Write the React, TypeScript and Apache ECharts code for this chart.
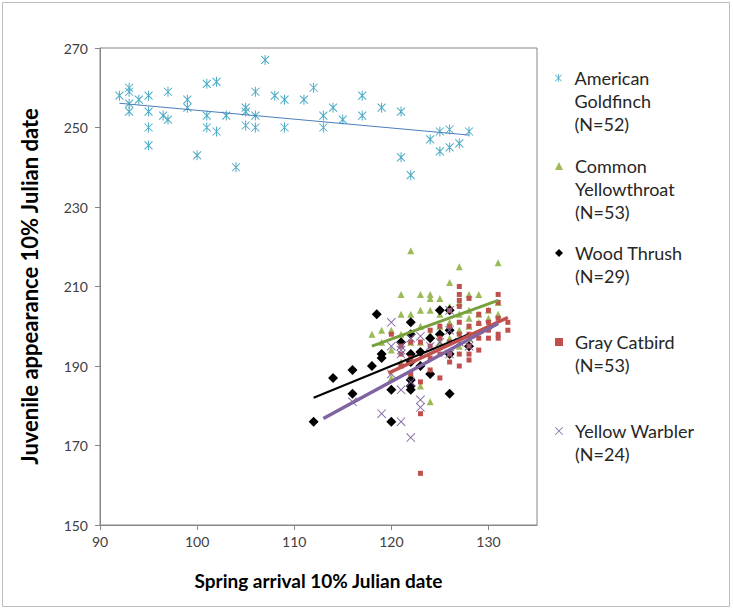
import React, { useEffect, useRef } from 'react';
import * as echarts from 'echarts';

const seriesNames = ['American Goldfinch', 'Common Yellowthroat', 'Wood Thrush', 'Gray Catbird', 'Yellow Warbler'];
const legendLabels = [
  'American\nGoldfinch\n(N=52)',
  'Common\nYellowthroat\n(N=53)',
  'Wood Thrush\n(N=29)',
  'Gray Catbird\n(N=53)',
  'Yellow Warbler\n(N=24)',
];
const legendLineCenters = [78, 166, 253, 342, 431];
const seriesColors = ['#4BACC6', '#9BBB59', '#000000', '#C0504D', '#8064A2'];

const goldfinch = [
  [92, 258], [93, 260], [93, 259], [93, 256], [93, 254], [94, 257], [95, 258], [95, 254], [95, 250], [95, 245.5],
  [96.5, 253], [97, 259], [97, 252], [99, 257], [99, 255], [100, 243], [101, 261], [101, 253], [101, 250], [102, 261.5],
  [102, 249], [103, 253], [104, 240], [105, 255], [105, 254], [105, 250.5], [106, 259], [106, 253], [106, 250], [107, 267],
  [108, 258], [109, 257], [109, 250], [111, 257], [112, 260], [113, 253], [113, 250], [114, 255], [115, 252], [117, 258],
  [117, 253], [119, 255], [121, 254], [121, 242.5], [122, 238], [124, 247], [125, 249], [125, 244], [126, 249.5], [126, 245],
  [127, 246], [128, 249],
];
const yellowthroat = [
  [118, 198], [119, 199], [120, 199], [121, 198], [121, 203], [121, 208], [122, 203], [122, 219], [122, 196], [123, 208],
  [123, 204], [123, 200], [124, 208], [124, 207], [124, 204], [124, 198], [124, 181], [125, 203], [125, 200], [125, 196],
  [126, 211], [126, 205], [126, 201], [126, 197], [127, 215], [127, 206], [127, 203], [127, 199], [128, 208], [128, 204],
  [128, 200], [128, 197], [129, 208], [129, 203], [129, 201], [130, 204], [130, 200], [131, 216], [131, 206], [131, 203],
  [121, 191], [122, 193], [120, 194], [123, 196], [125, 207], [126, 193], [127, 195], [119, 196], [120, 187], [122, 188],
  [123, 185], [130, 202], [128, 202],
];
const woodThrush = [
  [112, 176], [114, 187], [116, 189], [116, 183], [118, 190], [118.5, 203], [119, 193], [119, 192], [120, 184], [120, 176],
  [121, 196], [122, 201], [122, 198], [122, 193], [122, 191], [122, 186.5], [122, 185], [122, 184], [123, 193.5], [123, 190],
  [124, 188], [124, 197], [125, 204], [125, 198], [126, 204], [126, 199], [126, 183], [128, 195], [126, 193],
];
const catbird = [
  [120, 198], [121, 195], [121, 190], [122, 192], [122, 188], [123, 186], [123, 178], [123, 163], [123, 196], [124, 199],
  [124, 195], [124, 192], [125, 187], [125, 197], [125, 200], [126, 193], [126, 191], [126, 196], [126, 200], [127, 210],
  [127, 208], [127, 206.5], [127, 205], [127, 193], [127, 190], [127, 198], [127, 201], [128, 207], [128, 195], [128, 193],
  [128, 191.5], [128, 198], [128, 200], [129, 200.7], [129, 197], [129, 203], [130, 197], [130, 201], [130, 204], [131, 208],
  [131, 206], [131, 198], [131, 197], [131, 202], [132, 199], [132, 201], [126, 204], [125, 193], [124, 189], [129, 194],
  [130, 199], [122, 196], [121, 193],
];
const yellowWarbler = [
  [116, 181], [119, 178], [120, 201], [120, 195], [120, 188], [121, 195], [121, 193], [121, 184], [121, 176], [122, 172],
  [122, 186], [123, 197.5], [123, 181.5], [123, 179.6], [121, 194], [126, 204], [126, 199], [128, 195], [124, 195], [125, 196],
  [122, 197], [127, 196], [126, 193], [128, 197],
];

const trendGoldfinch = [[92, 256.1], [128, 248.1]];
const trendYellowthroat = [[118, 195], [131, 206.5]];
const trendWoodThrush = [[112, 182], [128, 198]];
const trendCatbird = [[119.7, 188.2], [132, 202.2]];
const trendYellowWarbler = [[113, 176.8], [131, 200.7]];

const xMin = 90, xMax = 135, xStep = 10;
const yMin = 150, yMax = 270, yStep = 20;

const asteriskPath =
  'path://M9 0H11V20H9Z M1.3 2.7L2.7 1.3L18.7 17.3L17.3 18.7Z M17.3 1.3L18.7 2.7L2.7 18.7L1.3 17.3Z';
const crossPath =
  'path://M0.3 1.7L1.7 0.3L19.7 18.3L18.3 19.7Z M18.3 0.3L19.7 1.7L1.7 19.7L0.3 18.3Z';

export default function App() {
  const ref = useRef<HTMLDivElement>(null);
  useEffect(() => {
    if (!ref.current) return;
    const chart = echarts.init(ref.current, null, { renderer: 'svg' });
    const font = 'Lato, "Open Sans", sans-serif';
    const data = [goldfinch, yellowthroat, woodThrush, catbird, yellowWarbler];
    const symbols = [asteriskPath, 'triangle', 'diamond', 'rect', crossPath];
    const sizes = [10, 7, 10, 5, 9];
    const trends = [trendGoldfinch, trendYellowthroat, trendWoodThrush, trendCatbird, trendYellowWarbler];
    const trendColors = ['#4A7EBB', '#77A03C', '#000000', '#C0504D', '#8064A2'];
    const trendWidths = [1, 3, 2, 3.5, 3.5];

    const scatterSeries = seriesNames.map((name, i) => ({
      name,
      type: 'scatter',
      data: data[i],
      symbol: symbols[i],
      symbolSize: sizes[i],
      symbolKeepAspect: true,
      itemStyle: { color: seriesColors[i], opacity: 1 },
      z: 2 + i,
      silent: true,
    }));
    const trendSeries = trends.map((t, i) => ({
      name: seriesNames[i] + ' trend',
      type: 'line',
      data: t,
      symbol: 'none',
      lineStyle: { color: trendColors[i], width: trendWidths[i] },
      z: 10 + i,
      silent: true,
    }));

    const lh = 23;
    const legends = seriesNames.map((name, i) => {
      const lines = legendLabels[i].split('\n').length;
      // leading blank lines so that the first text line sits level with the icon
      const padded = '\n'.repeat(lines - 1) + legendLabels[i];
      const totalLines = 2 * lines - 1;
      return {
        data: [name],
        orient: 'vertical',
        left: 555,
        top: legendLineCenters[i] - (totalLines * lh) / 2,
        padding: 0,
        itemWidth: 8,
        itemHeight: 8,
        symbolKeepAspect: true,
        formatter: () => padded,
        textStyle: {
          fontFamily: font,
          fontSize: 18,
          color: '#262626',
          lineHeight: lh,
          padding: [0, 0, 0, 7],
        },
        selectedMode: false,
      };
    });

    chart.setOption({
      animation: false,
      backgroundColor: '#ffffff',
      textStyle: { fontFamily: font },
      graphic: [
        {
          type: 'rect',
          shape: { x: 2.5, y: 2.5, width: 727, height: 604 },
          style: { fill: 'none', stroke: '#bdbdbd', lineWidth: 1 },
          silent: true,
          z: -10,
        },
      ],
      grid: {
        left: 100,
        right: 196,
        top: 48,
        bottom: 86,
        show: true,
        borderColor: '#868686',
        borderWidth: 1,
        backgroundColor: 'transparent',
      },
      legend: legends,
      xAxis: {
        type: 'value',
        min: xMin,
        max: xMax,
        interval: xStep,
        name: 'Spring arrival 10% Julian date',
        nameLocation: 'middle',
        nameGap: 46,
        nameTextStyle: { fontFamily: font, fontSize: 19, fontWeight: 'bold', color: '#000' },
        axisLine: { show: true, lineStyle: { color: '#868686', width: 1 } },
        axisTick: { show: true, length: 5, lineStyle: { color: '#868686' } },
        axisLabel: { fontFamily: font, fontSize: 14, color: '#404040', margin: 9, showMaxLabel: false },
        splitLine: { show: false },
      },
      yAxis: {
        type: 'value',
        min: yMin,
        max: yMax,
        interval: yStep,
        name: 'Juvenile appearance 10% Julian date',
        nameLocation: 'middle',
        nameGap: 60,
        nameTextStyle: { fontFamily: font, fontSize: 22, fontWeight: 'bold', color: '#000' },
        axisLine: { show: true, lineStyle: { color: '#868686', width: 1 } },
        axisTick: { show: true, length: 5, lineStyle: { color: '#868686' } },
        axisLabel: { fontFamily: font, fontSize: 14, color: '#404040', margin: 12 },
        splitLine: { show: false },
      },
      series: [...scatterSeries, ...trendSeries],
    });
    return () => chart.dispose();
  }, []);
  return (
    <div
      ref={ref}
      style={{ position: 'fixed', left: 0, top: 0, width: 733, height: 611, background: '#fff' }}
    />
  );
}
